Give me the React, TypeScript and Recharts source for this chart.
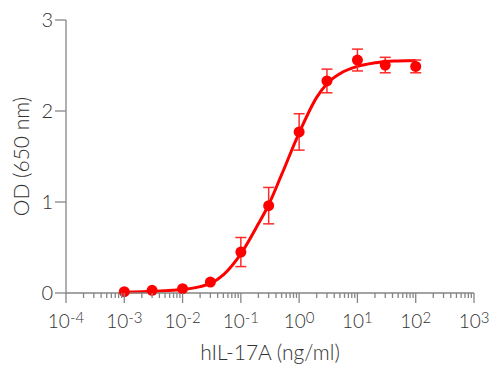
import React from 'react';
import { ComposedChart, Line, Scatter, ErrorBar, XAxis, YAxis } from 'recharts';

// measured points: concentration (ng/ml), mean OD, error
const doses = [0.001, 0.003, 0.01, 0.03, 0.1, 0.3, 1, 3, 10, 30, 100];
const odMeans = [0.015, 0.03, 0.047, 0.12, 0.45, 0.96, 1.77, 2.33, 2.56, 2.505, 2.49];
const odErrors = [0, 0, 0, 0, 0.16, 0.2, 0.2, 0.13, 0.12, 0.085, 0.07];

// fitted curve
const fitX = [0.001, 0.002, 0.005, 0.01, 0.02, 0.03, 0.05, 0.1, 0.2, 0.3, 0.5, 1, 2, 3, 5, 10, 20, 30, 50, 100];
const fitY = [0.008, 0.013, 0.024, 0.038, 0.07, 0.105, 0.2, 0.43, 0.76, 0.97, 1.3, 1.76, 2.15, 2.3, 2.41, 2.49, 2.53, 2.545, 2.55, 2.555];

const majorTicks = [1e-4, 1e-3, 1e-2, 1e-1, 1e0, 1e1, 1e2, 1e3];
const exponents = ['-4', '-3', '-2', '-1', '0', '1', '2', '3'];
const yTicks = [0, 1, 2, 3];

const RED = '#ff0000';
const AXIS = '#858585';
const TEXT = '#333333';
const FONT = 'Lato, "Open Sans", sans-serif';
const WEIGHT = 300;

const xTicks: number[] = [];
majorTicks.forEach((t, i) => {
    xTicks.push(t);
    if (i < majorTicks.length - 1) {
        for (let m = 2; m <= 9; m++) xTicks.push(t * m);
    }
});

const points = doses.map((x, i) => ({ x, y: odMeans[i], err: odErrors[i] }));
const fit = fitX.map((x, i) => ({ x, y: fitY[i] }));

const LogTick = (props: any) => {
    const { x, y, payload } = props;
    const idx = majorTicks.findIndex(t => Math.abs(t - payload.value) / t < 1e-6);
    const major = idx >= 0;
    return (
        <g>
            <line x1={x} x2={x} y1={y} y2={y + (major ? 10 : 5)} stroke={AXIS} strokeWidth={1.3} />
            {major && (
                <text x={x} y={y + 35} textAnchor="middle" fill={TEXT} fontSize={19} fontWeight={WEIGHT} fontFamily={FONT}>
                    10<tspan dy={-5} fontSize={15}>{exponents[idx]}</tspan>
                </text>
            )}
        </g>
    );
};

const Dot = (props: any) => <circle cx={props.cx} cy={props.cy} r={5.5} fill={RED} />;

const App = () => {
    return (
        <div style={{ position: 'absolute', left: 0, top: 0, background: '#fff' }}>
            <ComposedChart width={500} height={368} margin={{ top: 20, right: 26, left: 0, bottom: 35 }}>
                <XAxis
                    dataKey="x"
                    type="number"
                    scale="log"
                    domain={[1e-4, 1e3]}
                    ticks={xTicks}
                    interval={0}
                    allowDataOverflow
                    height={40}
                    stroke={AXIS}
                    axisLine={{ stroke: AXIS, strokeWidth: 1.3 }}
                    tickLine={false}
                    tickSize={0}
                    tickMargin={0}
                    tick={<LogTick />}
                    label={{
                        content: (p: any) => (
                            <text x={p.viewBox.x + p.viewBox.width / 2} y={360} textAnchor="middle" fill={TEXT} fontSize={21} fontWeight={WEIGHT} fontFamily={FONT}>
                                hIL-17A (ng/ml)
                            </text>
                        )
                    }}
                />
                <YAxis
                    type="number"
                    domain={[0, 3]}
                    ticks={yTicks}
                    width={66}
                    axisLine={{ stroke: AXIS, strokeWidth: 1.3 }}
                    tickLine={{ stroke: AXIS, strokeWidth: 1.3 }}
                    tickSize={11}
                    tickMargin={2}
                    tick={{ fill: TEXT, fontSize: 20, fontWeight: WEIGHT, fontFamily: FONT }}
                    label={{
                        content: (p: any) => {
                            const cy = p.viewBox.y + p.viewBox.height / 2;
                            return (
                                <text x={20} y={cy} transform={`rotate(-90 20 ${cy})`} textAnchor="middle" dominantBaseline="central" fill={TEXT} fontSize={21} fontWeight={WEIGHT} fontFamily={FONT}>
                                    OD (650 nm)
                                </text>
                            );
                        }
                    }}
                />
                <Line data={fit} dataKey="y" type="monotone" stroke={RED} strokeWidth={3} dot={false} activeDot={false} isAnimationActive={false} />
                <Scatter data={points} dataKey="y" fill={RED} shape={<Dot />} isAnimationActive={false}>
                    <ErrorBar dataKey="err" direction="y" width={5.5} stroke="#ff2a2a" strokeWidth={1.5} />
                </Scatter>
            </ComposedChart>
        </div>
    );
};

export default App;
